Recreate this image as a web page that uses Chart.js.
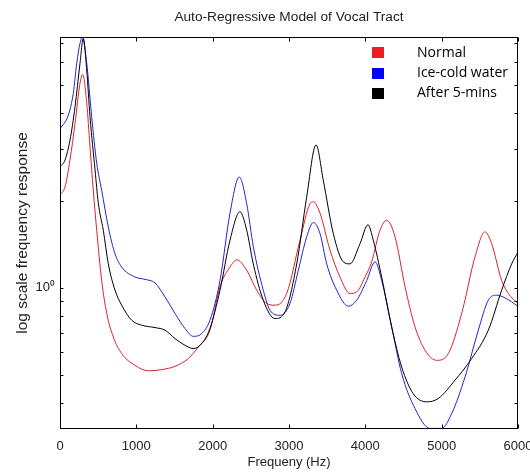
<!DOCTYPE html>
<html><head><meta charset="utf-8">
<script src="https://cdn.jsdelivr.net/npm/chart.js@4/dist/chart.umd.min.js"></script>
<style>html,body{margin:0;padding:0;background:#fff}</style>
</head><body>
<canvas id="c" width="530" height="472"></canvas>
<script>
const titleText = 'Auto-Regressive Model of Vocal Tract';
const xTitle = 'Frequeny (Hz)';
const yTitle = 'log scale frequency response';
const seriesNames = ['Normal', 'Ice-cold water', 'After 5-mins'];
const xTicks = [0, 1000, 2000, 3000, 4000, 5000, 6000];
const yTickValues = [0.4, 0.5, 0.6, 0.7, 0.8, 0.9, 1, 2, 3, 4, 5, 6, 7];
const yTickLabels = { 1: '10\u2070' };

const freqNormal = [0,66,131,197,262,297,350,393,436,481,546,612,698,808,983,1157,1332,1507,1681,1812,1965,2096,2227,2315,2446,2577,2708,2817,2970,3144,3275,3318,3406,3537,3668,3799,3887,3996,4083,4192,4280,4389,4520,4651,4782,4935,5087,5262,5437,5568,5655,5786,5873,6000];
const respNormal = [2.09,2.23,2.76,3.69,5.07,5.44,4.34,3.06,2.17,1.58,1.06,0.818,0.678,0.594,0.541,0.518,0.523,0.537,0.571,0.626,0.715,1.01,1.18,1.25,1.15,0.982,0.884,0.872,0.957,1.46,1.95,1.98,1.81,1.35,1.09,0.957,0.969,1.09,1.23,1.58,1.71,1.50,1.01,0.734,0.61,0.563,0.594,0.816,1.28,1.56,1.42,1.06,0.957,0.884];

const freqIce = [0,109,174,219,262,292,350,415,481,546,633,721,808,983,1114,1245,1376,1507,1638,1746,1856,1965,2096,2227,2349,2446,2532,2663,2751,2882,3013,3122,3232,3318,3406,3494,3625,3777,3887,4018,4127,4214,4345,4476,4651,4847,5000,5131,5306,5480,5611,5721,5830,6000];
const respIce = [3.53,3.94,4.68,5.94,6.96,7.32,5.95,3.89,2.69,2.17,1.62,1.31,1.18,1.09,1.07,1.04,0.931,0.816,0.724,0.681,0.696,0.774,1.06,1.81,2.41,1.95,1.39,0.982,0.838,0.805,0.884,1.15,1.50,1.68,1.54,1.21,0.982,0.865,0.907,1.06,1.23,1.06,0.734,0.507,0.384,0.328,0.328,0.369,0.493,0.715,0.907,0.944,0.924,0.865];

const freqAfter = [0,66,131,197,262,305,350,393,459,502,567,633,721,808,939,1070,1245,1376,1507,1638,1746,1856,1965,2096,2227,2358,2446,2532,2663,2817,2948,3101,3232,3354,3449,3580,3711,3799,3930,4035,4104,4214,4345,4476,4628,4804,4956,5175,5393,5611,5786,5917,6000];
const respAfter = [2.61,2.76,3.23,4.21,5.94,7.24,5.63,3.89,2.55,1.96,1.58,1.21,0.982,0.872,0.774,0.744,0.730,0.715,0.669,0.634,0.618,0.643,0.726,0.982,1.46,1.83,1.58,1.21,0.907,0.784,0.827,1.21,2.06,3.11,2.35,1.54,1.23,1.21,1.42,1.65,1.46,1.09,0.734,0.534,0.432,0.405,0.416,0.481,0.571,0.715,0.982,1.21,1.33];

const lineColors = ['rgb(218,35,45)', 'rgb(35,35,210)', 'rgb(0,0,0)'];
const legendColors = ['#ee1c24', '#0000ff', '#000000'];

const pts = (xs, ys) => xs.map((x, i) => ({ x: x, y: ys[i] }));

function hasFont(name) {
  const c = document.createElement('canvas').getContext('2d');
  const s = 'Frequeny (Hz) 0123456789 mmmWWW';
  c.font = '40px monospace';
  const a = c.measureText(s).width;
  c.font = '40px "' + name + '", monospace';
  const b = c.measureText(s).width;
  return Math.abs(a - b) > 0.5;
}
const narrow = hasFont('Liberation Sans Narrow');
const tickFont = narrow
  ? { family: '"Liberation Sans Narrow", "Liberation Sans", sans-serif', size: 16 }
  : { family: '"Liberation Sans", Arial, sans-serif', size: 13 };
const xTickPad = narrow ? 5 : 10;
const yLabelFont = { family: '"Liberation Sans", Arial, sans-serif', size: 15.5 };

const framePlugin = {
  id: 'frame',
  afterDraw(chart) {
    const { ctx, chartArea: a, scales } = chart;
    const x = scales.x, y = scales.y;
    ctx.save();
    ctx.strokeStyle = '#000';
    ctx.lineWidth = 1;
    const L = Math.round(a.left) + 0.5, R = Math.round(a.right) - 0.5;
    const T = Math.round(a.top) + 0.5, B = Math.round(a.bottom) - 0.5;
    ctx.strokeRect(L, T, R - L, B - T);
    ctx.beginPath();
    xTicks.forEach(v => {
      const px = Math.round(x.getPixelForValue(v)) + 0.5;
      ctx.moveTo(px, B); ctx.lineTo(px, B - 4);
      ctx.moveTo(px, T); ctx.lineTo(px, T + 4);
    });
    yTickValues.forEach(v => {
      const py = Math.round(y.getPixelForValue(v)) + 0.5;
      ctx.moveTo(L, py); ctx.lineTo(L + 3, py);
      ctx.moveTo(R, py); ctx.lineTo(R - 3, py);
    });
    ctx.stroke();
    // legend
    ctx.font = '14px "Open Sans"';
    ctx.textBaseline = 'middle';
    ctx.textAlign = 'left';
    seriesNames.forEach((name, i) => {
      const cy = 52.7 + i * 20.3;
      ctx.fillStyle = legendColors[i];
      ctx.fillRect(372, Math.round(cy - 5.5), 12, 11);
      ctx.fillStyle = '#000';
      ctx.fillText(name, 417, cy);
    });
    ctx.restore();
  }
};

new Chart(document.getElementById('c'), {
  type: 'line',
  data: {
    datasets: [
      { label: seriesNames[0], data: pts(freqNormal, respNormal), borderColor: lineColors[0], order: 2 },
      { label: seriesNames[1], data: pts(freqIce, respIce), borderColor: lineColors[1], order: 1 },
      { label: seriesNames[2], data: pts(freqAfter, respAfter), borderColor: lineColors[2], order: 0 }
    ].map(d => Object.assign(d, { borderWidth: 1, pointRadius: 0, fill: false, cubicInterpolationMode: 'monotone' }))
  },
  options: {
    responsive: false,
    animation: false,
    devicePixelRatio: 1,
    layout: { padding: { left: 0, right: 12, top: 0, bottom: 0 } },
    plugins: {
      legend: { display: false },
      tooltip: { enabled: false },
      title: {
        display: true, text: titleText, color: '#222', fullSize: false,
        font: { family: '"Liberation Sans", Arial, sans-serif', size: 13.7, weight: 'normal' },
        padding: { top: 9.5, bottom: 11.06 }
      }
    },
    scales: {
      x: {
        type: 'linear', min: 0, max: 6000, bounds: 'data',
        afterBuildTicks: s => { s.ticks = xTicks.map(v => ({ value: v })); },
        ticks: { font: tickFont, color: '#222', padding: xTickPad, maxRotation: 0, autoSkip: false, callback: v => String(v) },
        grid: { drawOnChartArea: false, drawTicks: false },
        border: { display: false },
        title: { display: true, text: xTitle, color: '#222', font: tickFont, padding: { top: 0, bottom: narrow ? 0 : 2 } },
        afterFit: s => { s.height = 43; s.paddingLeft = 0; s.paddingRight = 0; }
      },
      y: {
        type: 'logarithmic', min: 0.3265, max: 7.32, bounds: 'data',
        afterBuildTicks: s => { s.ticks = yTickValues.map(v => ({ value: v })); },
        ticks: { font: tickFont, color: '#222', padding: 5, autoSkip: false, callback: v => yTickLabels[v] || '' },
        grid: { drawOnChartArea: false, drawTicks: false },
        border: { display: false },
        title: { display: true, text: yTitle, color: '#222', font: yLabelFont, padding: { top: 13.5, bottom: 0 } },
        afterFit: s => { s.width = 60; s.paddingTop = 0; s.paddingBottom = 0; }
      }
    }
  },
  plugins: [framePlugin]
});
</script>
</body></html>
